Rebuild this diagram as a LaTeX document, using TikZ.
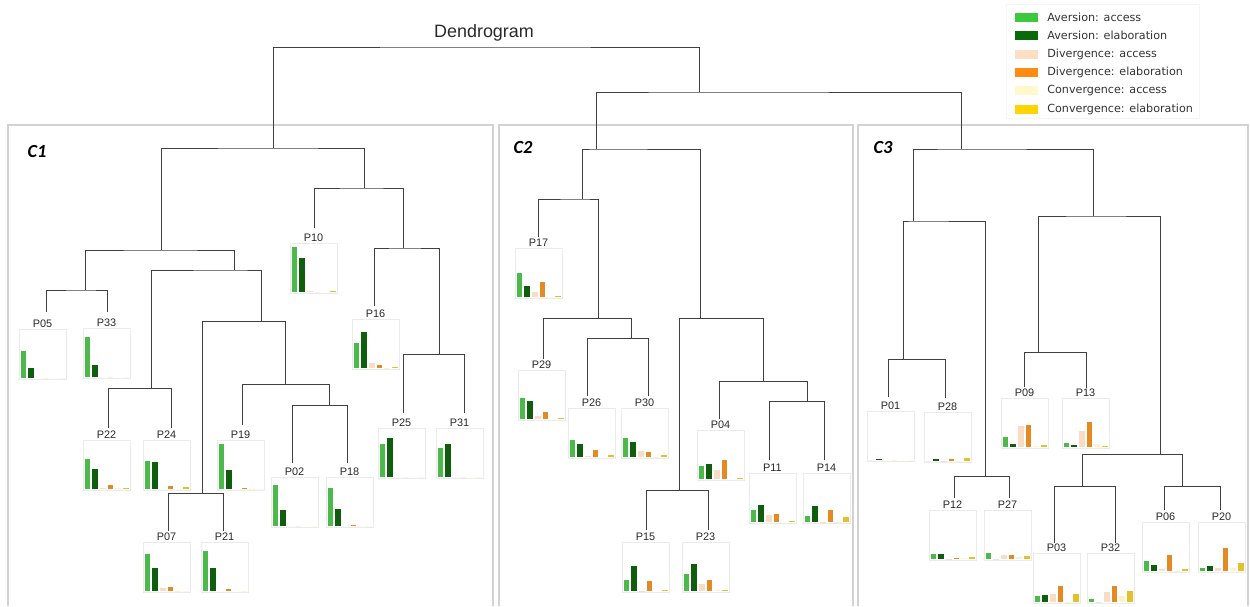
\documentclass[tikz,border=0pt]{standalone}
\usepackage{fontspec}
\setmainfont{Liberation Sans}
\newfontfamily\legfont{DejaVu Sans}
\newfontfamily\clfont{Carlito}
\definecolor{bar1}{HTML}{4BBA4B}
\definecolor{bar2}{HTML}{0E5E0E}
\definecolor{bar3}{HTML}{F8DCC4}
\definecolor{bar4}{HTML}{E48A24}
\definecolor{bar5}{HTML}{FBF2CC}
\definecolor{bar6}{HTML}{E2C12C}
\definecolor{leg1}{HTML}{3DC93D}
\definecolor{leg2}{HTML}{0A6A0A}
\definecolor{leg3}{HTML}{FDDEC3}
\definecolor{leg4}{HTML}{FF8C12}
\definecolor{leg5}{HTML}{FFF8CC}
\definecolor{leg6}{HTML}{FFD400}
\definecolor{frame}{HTML}{D2D2D2}
\definecolor{linkc}{HTML}{404040}
\definecolor{txt}{HTML}{2A2A2A}
\tikzset{
  dlink/.style={draw=linkc, line width=0.5pt},
  chartbox/.style={draw=black!8, line width=0.4pt, fill=white, minimum width=0.94cm, minimum height=1cm, inner sep=0pt},
  leaflab/.style={inner sep=0pt, text=txt, font=\fontsize{6.2}{7}\selectfont},
  cluster/.style={draw=frame, line width=1.5pt},
  cllab/.style={inner sep=0pt, text=black, font=\clfont\bfseries\itshape\fontsize{10.5}{12}\selectfont},
  swatch/.style={minimum width=0.46cm, minimum height=0.18cm, inner sep=0pt},
  legtext/.style={anchor=west, inner sep=0pt, text=black!80, font=\legfont\fontsize{6.35}{7.5}\selectfont}
}
\newcommand\leaf[4]{%
  \node[chartbox, anchor=north west] (#1b) at (#2,#3) {};
  \node[leaflab] (#1) at ({#2+23.5},{#3-5}) {#1};
  \foreach \h [count=\i] in {#4} {
    \fill[bar\i] ({#2+1.5+7.7*(\i-1)},{#3+49}) rectangle ++(5.8,-\h);
  }%
}
\begin{document}
\begin{tikzpicture}[x=0.02cm, y=-0.02cm]
\useasboundingbox[fill=white] (0,0) rectangle (1250,606);
% cluster frames
\draw[cluster] (8,606) -- (8,125) -- (493,125) -- (493,606);
\draw[cluster] (499,606) -- (499,125) -- (853,125) -- (853,606);
\draw[cluster] (858,606) -- (858,125) -- (1248,125) -- (1248,606);
\node[cllab] (c1lab) at (37,152) {C1};
\node[cllab] (c2lab) at (523,148) {C2};
\node[cllab] (c3lab) at (883,148) {C3};
% title
\node[inner sep=0pt, text=txt, font=\fontsize{10.2}{12}\selectfont] (title) at (484,33) {Dendrogram};
% junction coordinates
\coordinate (top) at (484,47);
\coordinate (R) at (699,92);
\coordinate (C1r) at (273,148);
\coordinate (A1) at (161,250);
\coordinate (A1a) at (85,290);
\coordinate (A1b) at (234,270);
\coordinate (D1) at (151,388);
\coordinate (E1) at (261,321);
\coordinate (F1) at (202,493);
\coordinate (G1) at (285,384);
\coordinate (H1) at (329,405);
\coordinate (B1) at (364,188);
\coordinate (I1) at (403,248);
\coordinate (J1) at (439,354);
\coordinate (C2r) at (596,149);
\coordinate (K2) at (582,199);
\coordinate (M2) at (598,318);
\coordinate (N2) at (631,338);
\coordinate (L2) at (700,318);
\coordinate (O2) at (679,490);
\coordinate (P2) at (763,381);
\coordinate (Q2) at (807,401);
\coordinate (C3r) at (961,149);
\coordinate (S3) at (913,221);
\coordinate (U3) at (903,359);
\coordinate (V3) at (985,476);
\coordinate (T3) at (1093,216);
\coordinate (W3) at (1038,352);
\coordinate (X3) at (1160,454);
\coordinate (Y3) at (1082,486);
\coordinate (Z3) at (1182,486);
% leaf drop ends
\coordinate (d05) at (46,312);
\coordinate (d33) at (107,312);
\coordinate (d22) at (108,428);
\coordinate (d24) at (171,428);
\coordinate (d07) at (168,531);
\coordinate (d21) at (223,531);
\coordinate (d19) at (242,425);
\coordinate (d02) at (292,463);
\coordinate (d18) at (347,463);
\coordinate (d10) at (314,228);
\coordinate (d16) at (374,306);
\coordinate (d25) at (403,413);
\coordinate (d31) at (464,413);
\coordinate (d17) at (538,237);
\coordinate (d29) at (543,359);
\coordinate (d26) at (587,396);
\coordinate (d30) at (648,396);
\coordinate (d15) at (646,530);
\coordinate (d23) at (708,530);
\coordinate (d04) at (719,419);
\coordinate (d11) at (769,460);
\coordinate (d14) at (824,460);
\coordinate (d01) at (888,397);
\coordinate (d28) at (945,398);
\coordinate (d12) at (954,498);
\coordinate (d27) at (1009,498);
\coordinate (d09) at (1024,387);
\coordinate (d13) at (1086,388);
\coordinate (d03) at (1054,543);
\coordinate (d32) at (1115,543);
\coordinate (d06) at (1164,510);
\coordinate (d20) at (1220,510);
% links
\draw[dlink] (C1r) |- (top) -| (R);
\draw[dlink] (C2r) |- (R) -| (C3r);
\draw[dlink] (A1) |- (C1r) -| (B1);
\draw[dlink] (A1a) |- (A1) -| (A1b);
\draw[dlink] (d05) |- (A1a) -| (d33);
\draw[dlink] (D1) |- (A1b) -| (E1);
\draw[dlink] (d22) |- (D1) -| (d24);
\draw[dlink] (F1) |- (E1) -| (G1);
\draw[dlink] (d07) |- (F1) -| (d21);
\draw[dlink] (d19) |- (G1) -| (H1);
\draw[dlink] (d02) |- (H1) -| (d18);
\draw[dlink] (d10) |- (B1) -| (I1);
\draw[dlink] (d16) |- (I1) -| (J1);
\draw[dlink] (d25) |- (J1) -| (d31);
\draw[dlink] (K2) |- (C2r) -| (L2);
\draw[dlink] (d17) |- (K2) -| (M2);
\draw[dlink] (d29) |- (M2) -| (N2);
\draw[dlink] (d26) |- (N2) -| (d30);
\draw[dlink] (O2) |- (L2) -| (P2);
\draw[dlink] (d15) |- (O2) -| (d23);
\draw[dlink] (d04) |- (P2) -| (Q2);
\draw[dlink] (d11) |- (Q2) -| (d14);
\draw[dlink] (S3) |- (C3r) -| (T3);
\draw[dlink] (U3) |- (S3) -| (V3);
\draw[dlink] (d01) |- (U3) -| (d28);
\draw[dlink] (d12) |- (V3) -| (d27);
\draw[dlink] (W3) |- (T3) -| (X3);
\draw[dlink] (d09) |- (W3) -| (d13);
\draw[dlink] (Y3) |- (X3) -| (Z3);
\draw[dlink] (d03) |- (Y3) -| (d32);
\draw[dlink] (d06) |- (Z3) -| (d20);
% leaves: C1
\leaf{P05}{19}{329}{27,10,0,0,0,0}
\leaf{P33}{83}{328}{40,12,0,0,0,0}
\leaf{P22}{83}{440}{30,20,0.6,4,0.6,1.5}
\leaf{P24}{143}{440}{28,27,0,3,0,2}
\leaf{P19}{217}{440}{45,19,0,1.5,0.5,0}
\leaf{P07}{143}{542}{37,23,3,4,0.5,0}
\leaf{P21}{201}{542}{40,23,0,2,0,0}
\leaf{P10}{290}{243}{45,34,1,0,0,1.5}
\leaf{P16}{352}{319}{25,36,5,3,0.5,1}
\leaf{P25}{378}{428}{33,39,0,0,0,0}
\leaf{P31}{436}{428}{29,33,0,0,0,0}
\leaf{P02}{271}{477}{41,16,0,0,0,0}
\leaf{P18}{326}{477}{38,17,0,1,0,0}
% leaves: C2
\leaf{P17}{515}{248}{24,11,5,15,0,1.3}
\leaf{P29}{518}{370}{21,18,3,7,0,1}
\leaf{P26}{568}{408}{17,13,1,7,0,2}
\leaf{P30}{621}{408}{19,15,6,5,0.3,2}
\leaf{P04}{697}{430}{13,15,9,19,0,1}
\leaf{P11}{749}{473}{12,17,7,8,0,1.5}
\leaf{P14}{803}{473}{6,16,0.5,12,0.5,5}
\leaf{P15}{622}{542}{11,25,0.3,10,0,1}
\leaf{P23}{682}{542}{17,27,7,11,1,1}
% leaves: C3
\leaf{P01}{867}{411}{0,1,0,0,0,0}
\leaf{P28}{924}{412}{0,2.5,0.5,2,0.3,3}
\leaf{P09}{1001}{398}{10,3,21,22,1.5,2}
\leaf{P13}{1062}{398}{4,2,16,25,3,1}
\leaf{P12}{929}{510}{5,5,0.5,1,1.5,2.5}
\leaf{P27}{984}{510}{6,0,4,4,2,3}
\leaf{P03}{1033}{553}{6,7,8,16,0.3,8}
\leaf{P32}{1087}{553}{3,0,10,16,6,11}
\leaf{P06}{1142}{522}{10,6,2,16,0.3,2}
\leaf{P20}{1198}{522}{3,5,3,23,3,8}
% legend
\draw[black!4, line width=0.4pt] (1006,4) rectangle (1199,118);
\node[swatch, fill=leg1] (s1) at (1026.5,17) {};
\node[swatch, fill=leg2] (s2) at (1026.5,35.5) {};
\node[swatch, fill=leg3] (s3) at (1026.5,54) {};
\node[swatch, fill=leg4] (s4) at (1026.5,72) {};
\node[swatch, fill=leg5] (s5) at (1026.5,90.5) {};
\node[swatch, fill=leg6] (s6) at (1026.5,109) {};
\node[legtext] (t1) at (1047,17) {Aversion: access};
\node[legtext] (t2) at (1047,35.5) {Aversion: elaboration};
\node[legtext] (t3) at (1047,54) {Divergence: access};
\node[legtext] (t4) at (1047,72) {Divergence: elaboration};
\node[legtext] (t5) at (1047,90.5) {Convergence: access};
\node[legtext] (t6) at (1047,109) {Convergence: elaboration};
\end{tikzpicture}
\end{document}
